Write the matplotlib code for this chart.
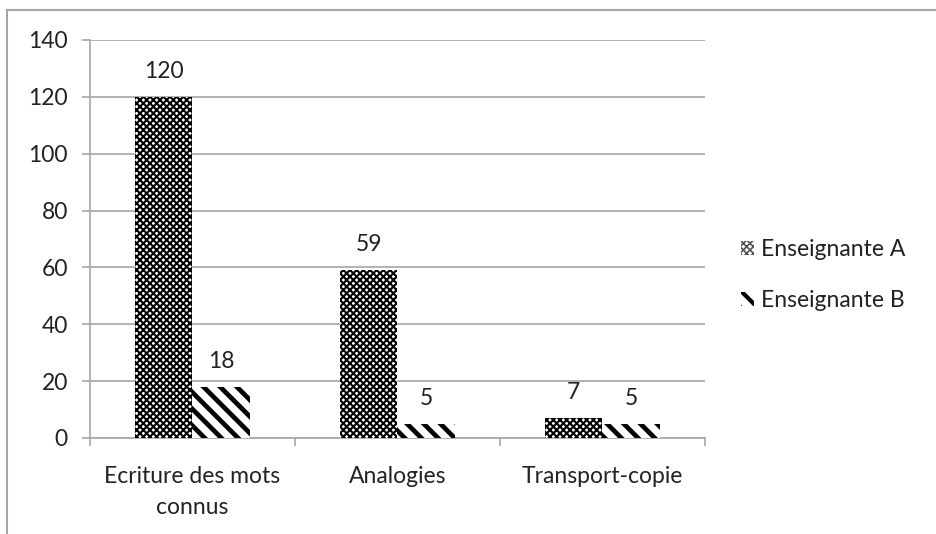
import matplotlib
matplotlib.use("Agg")
import matplotlib.pyplot as plt
from matplotlib.lines import Line2D
from matplotlib.patches import Patch
import numpy as np

categories = ["Ecriture des mots\nconnus", "Analogies", "Transport-copie"]
series_names = ["Enseignante A", "Enseignante B"]
values_a = [120, 59, 7]
values_b = [18, 5, 5]
y_ticks = [0, 20, 40, 60, 80, 100, 120, 140]

plt.rcParams['font.family'] = ['Lato', 'DejaVu Sans']
plt.rcParams['hatch.color'] = 'black'
FS = 16.5
TXT = '#222222'

fig = plt.figure(figsize=(9.37, 5.34), dpi=100)
ax = fig.add_axes([90/937, 1-438/534, (705-90)/937, (438-40)/534])

grey = '#A6A6A6'
x = np.arange(len(categories))
w = 0.28

plt.rcParams['hatch.linewidth'] = 1.5
ba = ax.bar(x - w/2, values_a, w, color='white', edgecolor='black', linewidth=0,
            hatch='xxxxx', label=series_names[0], zorder=3)
plt.rcParams['hatch.linewidth'] = 3.4
bb = ax.bar(x + w/2, values_b, w, color='white', edgecolor='black', linewidth=0,
            hatch='\\\\', label=series_names[1], zorder=3)
for b in ba:
    b._hatch_linewidth = 1.5
for b in bb:
    b._hatch_linewidth = 3.4

for bars, vals in ((ba, values_a), (bb, values_b)):
    for b, v in zip(bars, vals):
        ax.annotate(str(v), (b.get_x() + b.get_width()/2, v), xytext=(0, 11),
                    textcoords='offset points', ha='center', va='bottom',
                    fontsize=FS, color=TXT)

ax.set_xlim(-0.5, len(categories) - 0.5)
ax.set_ylim(0, 140)
ax.set_yticks(y_ticks)
ax.set_yticklabels([str(t) for t in y_ticks], fontsize=FS, color=TXT)
ax.yaxis.grid(True, color=grey, linewidth=1.2, zorder=0)
ax.set_axisbelow(True)

ax.set_xticks(x)
ax.set_xticklabels(categories, fontsize=FS, color=TXT, linespacing=1.6)
ax.tick_params(axis='x', length=0, pad=20)
ax.set_xticks(np.arange(len(categories) + 1) - 0.5, minor=True)
ax.tick_params(axis='x', which='minor', length=6, color=grey, width=1.2)
ax.tick_params(axis='y', length=6, color=grey, width=1.2, pad=10)

for s in ['top', 'right']:
    ax.spines[s].set_visible(False)
for s in ['left', 'bottom']:
    ax.spines[s].set_color(grey)
    ax.spines[s].set_linewidth(1.2)

handle_a = Patch(facecolor='white', edgecolor='#555555', linewidth=0, hatch='xxxxx')
leg = fig.legend(handles=[handle_a, bb], labels=series_names, loc='center left',
                 bbox_to_anchor=(720/937, 1-275/534), frameon=False, fontsize=FS,
                 handlelength=0.6, handleheight=0.6, handletextpad=0.3,
                 labelspacing=1.3)
lh = leg.legend_handles
lh[0]._hatch_linewidth = 1.2
lh[1]._hatch_linewidth = 3.0
for t in leg.get_texts():
    t.set_color(TXT)

fig.add_artist(Line2D([7/937, 7/937], [0, 1-10/534], color=grey, linewidth=1.5,
                      transform=fig.transFigure))
fig.add_artist(Line2D([7/937, 1], [1-10/534, 1-10/534], color=grey, linewidth=1.5,
                      transform=fig.transFigure))

fig.savefig('out.png', dpi=100, facecolor='white')
